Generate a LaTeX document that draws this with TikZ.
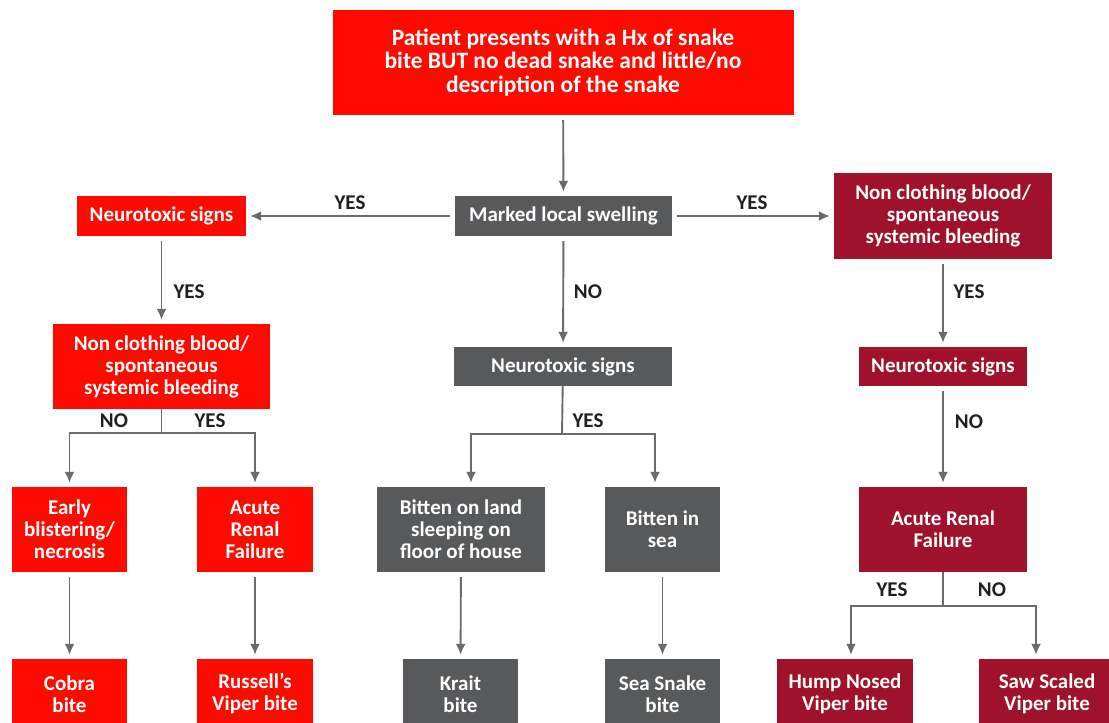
\documentclass[tikz,border=0pt]{standalone}
\usepackage{fontspec}
\setmainfont{Carlito}
\usetikzlibrary{positioning, arrows.meta, calc}
\definecolor{alarm}{HTML}{FF0A00}
\definecolor{wine}{HTML}{A0122B}
\definecolor{slate}{HTML}{58595B}
\definecolor{wire}{HTML}{6A6B6D}
\definecolor{ink}{HTML}{231F20}
\tikzset{
  blok/.style={rectangle, inner sep=2pt, align=center, text=white,
               font=\bfseries\fontsize{21}{22}\selectfont},
  redbox/.style={blok, fill=alarm},
  greybox/.style={blok, fill=slate},
  winebox/.style={blok, fill=wine},
  stem/.style={line width=1.9pt, draw=wire},
  branch/.style={stem, -{Latex[length=11pt,width=10pt]}, shorten >=4pt},
  flow/.style={branch, shorten <=5pt},
  lbl/.style={text=ink, font=\bfseries\fontsize{21}{22}\selectfont, inner sep=1pt},
}

\begin{document}
\begin{tikzpicture}[x=1pt, y=-1pt]
  \useasboundingbox (0,0) rectangle (1109,723);
  \clip (0,0) rectangle (1109,723);
  % first question
  \node[redbox, minimum width=461pt, minimum height=105pt,
        font=\bfseries\fontsize{23.5}{23.5}\selectfont] (top) at (563,62.5)
        {Patient presents with a Hx of snake\\bite BUT no dead snake and little/no\\description of the snake};
  \node[greybox, minimum width=217pt, minimum height=40pt] (swell) at (563.5,216) {Marked local swelling};
  % left column (red)
  \node[redbox, minimum width=169pt, minimum height=40pt] (neuL) at (161.5,216) {Neurotoxic signs};
  \node[redbox, minimum width=217pt, minimum height=85pt] (bleedL) at (161.5,366.5)
        {Non clothing blood/\\spontaneous\\systemic bleeding};
  \node[redbox, minimum width=115pt, minimum height=85pt] (blister) at (69.5,529.5) {Early\\blistering/\\necrosis};
  \node[redbox, minimum width=116pt, minimum height=85pt] (arfL) at (255,529.5) {Acute\\Renal\\Failure};
  \node[redbox, minimum width=115pt, minimum height=70pt] (cobra) at (69.5,694) {Cobra\\bite};
  \node[redbox, minimum width=116pt, minimum height=70pt] (russell) at (255,694) {Russell’s\\Viper bite};
  % middle column (grey)
  \node[greybox, minimum width=218pt, minimum height=39pt] (neuM) at (563,366.5) {Neurotoxic signs};
  \node[greybox, minimum width=168pt, minimum height=85pt] (land) at (461,529.5)
        {Bitten on land\\sleeping on\\floor of house};
  \node[greybox, minimum width=115pt, minimum height=85pt] (sea) at (662.5,529.5) {Bitten in\\sea};
  \node[greybox, minimum width=115pt, minimum height=70pt] (krait) at (460.5,694) {Krait\\bite};
  \node[greybox, minimum width=115pt, minimum height=70pt] (seasnake) at (662.5,694) {Sea Snake\\bite};
  % right column (wine)
  \node[winebox, minimum width=218pt, minimum height=86pt] (bleedR) at (943,216)
        {Non clothing blood/\\spontaneous\\systemic bleeding};
  \node[winebox, minimum width=168pt, minimum height=39pt] (neuR) at (943,366.5) {Neurotoxic signs};
  \node[winebox, minimum width=168pt, minimum height=85pt] (arfR) at (943,529.5) {Acute Renal\\Failure};
  \node[winebox, minimum width=136pt, minimum height=70pt] (hump) at (845,694) {Hump Nosed\\Viper bite};
  \node[winebox, minimum width=136pt, minimum height=70pt] (saw) at (1047,694) {Saw Scaled\\Viper bite};
  % junctions
  \coordinate (jL) at (161.5,433);
  \coordinate (jM) at (562,434);
  \coordinate (jR) at (943,606);
  % answers
  \node[lbl] (yesW) at (350,203) {YES};
  \node[lbl] (yesE) at (752,203) {YES};
  \node[lbl] (noS) at (588,292) {NO};
  \node[lbl] (yesL1) at (189,292) {YES};
  \node[lbl] (yesR1) at (969,292) {YES};
  \node[lbl] (noR1) at (969,422) {NO};
  \node[lbl] (noL) at (114,421) {NO};
  \node[lbl] (yesL) at (210,421) {YES};
  \node[lbl] (yesM) at (588,421) {YES};
  \node[lbl] (yesR) at (892,590) {YES};
  \node[lbl] (noR) at (992,590) {NO};
  % connectors
  \draw[flow] (top) -- (swell);
  \draw[flow] (swell) -- (neuL);
  \draw[flow] (swell) -- (bleedR);
  \draw[flow] (swell) -- (neuM);
  \draw[flow] (neuL) -- (bleedL);
  \draw[flow] (bleedR) -- (neuR);
  \draw[flow] (neuR) -- (arfR);
  \draw[stem] (bleedL) -- (jL);
  \draw[branch] (jL) -| (blister);
  \draw[branch] (jL) -| (arfL);
  \draw[stem] (neuM) -- (jM);
  \draw[branch] (jM) -| ([xshift=10pt]land.north);
  \draw[branch] (jM) -| ([xshift=-7.5pt]sea.north);
  \draw[stem] (arfR) -- (jR);
  \draw[branch] (jR) -| ([xshift=6pt]hump.north);
  \draw[branch] (jR) -| ([xshift=-11pt]saw.north);
  \draw[flow] (blister) -- (cobra);
  \draw[flow] (arfL) -- (russell);
  \draw[flow] (land) -- (krait);
  \draw[flow] (sea) -- (seasnake);
\end{tikzpicture}
\end{document}
